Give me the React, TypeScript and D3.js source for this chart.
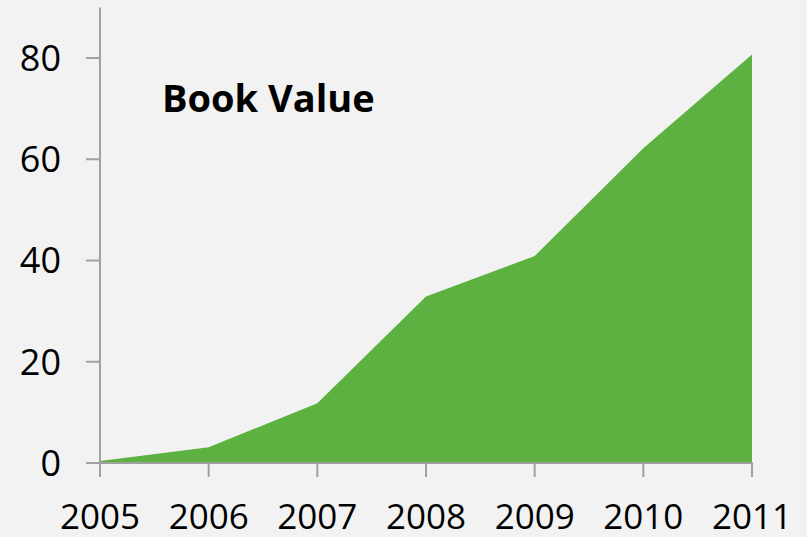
import React from "react";
import * as d3 from "d3";

const years = ["2005", "2006", "2007", "2008", "2009", "2010", "2011"];
const bookValue = [0.4, 3.1, 11.8, 32.9, 40.9, 62.2, 80.7];
const yTicks = [0, 20, 40, 60, 80];
const title = "Book Value";

const W = 807;
const H = 537;

export default function App() {
  const x = d3.scalePoint<string>().domain(years).range([100, 752]);
  const y = d3.scaleLinear().domain([0, 90]).range([463, 7.4]);
  const area = d3
    .area<number>()
    .x((_, i) => x(years[i]) as number)
    .y0(y(0))
    .y1((d) => y(d));
  const axisColor = "#a0a0a0";
  const font = "'Open Sans', sans-serif";
  return (
    <div style={{ position: "absolute", left: 0, top: 0 }}>
      <svg width={W} height={H} style={{ display: "block" }}>
        <rect x={0} y={0} width={W} height={H} fill="#f2f2f2" />
        <path d={area(bookValue) || ""} fill="#5cb140" />
        {/* y axis */}
        <line x1={100} x2={100} y1={y(90)} y2={y(0)} stroke={axisColor} strokeWidth={2} />
        {yTicks.map((t) => (
          <g key={t}>
            <line x1={86} x2={100} y1={y(t)} y2={y(t)} stroke={axisColor} strokeWidth={2} />
            <text
              x={61}
              y={y(t)}
              dy="0.36em"
              textAnchor="end"
              fontFamily={font}
              fontSize={36}
              fill="#000"
            >
              {t}
            </text>
          </g>
        ))}
        {/* x axis */}
        <line x1={86} x2={753} y1={y(0)} y2={y(0)} stroke={axisColor} strokeWidth={2} />
        {years.map((yr) => (
          <g key={yr}>
            <line
              x1={x(yr) as number}
              x2={x(yr) as number}
              y1={y(0)}
              y2={477}
              stroke={axisColor}
              strokeWidth={2}
            />
            <text
              x={x(yr) as number}
              y={529}
              textAnchor="middle"
              fontFamily={font}
              fontSize={35}
              fill="#000"
            >
              {yr}
            </text>
          </g>
        ))}
        <text x={162} y={112} fontFamily={font} fontWeight="bold" fontSize={38} fill="#000">
          {title}
        </text>
      </svg>
    </div>
  );
}
